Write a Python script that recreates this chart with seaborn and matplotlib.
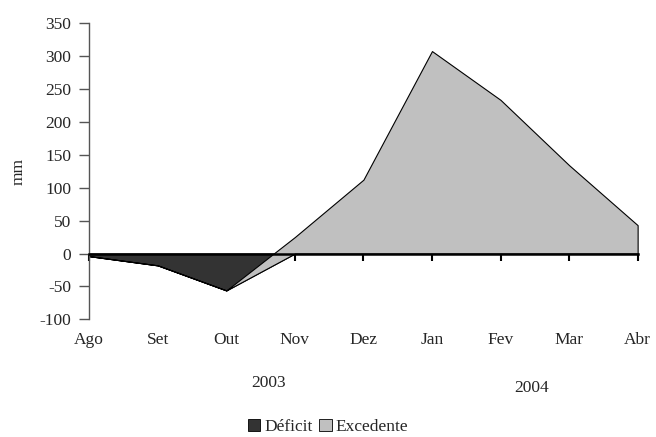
import numpy as np
import pandas as pd
import seaborn as sns
import matplotlib.pyplot as plt
from matplotlib.patches import Patch

# DATOS
meses = ['Ago', 'Set', 'Out', 'Nov', 'Dez', 'Jan', 'Fev', 'Mar', 'Abr']
deficit = [-4, -18, -56, 0, 0, 0, 0, 0, 0]
excedente = [0, 0, 0, 25, 112, 307, 233, 134, 43]
anos = ['2003', '2004']
pos_anos = [2.62, 6.45]

sns.set_style('white')
plt.rcParams['font.family'] = ['Liberation Serif', 'DejaVu Serif']
plt.rcParams['font.size'] = 12.5

df = pd.DataFrame({'mes': meses, 'Déficit': deficit, 'Excedente': excedente})
x = np.arange(len(df))

fig = plt.figure(figsize=(6.56, 4.37), dpi=100)
ax = fig.add_axes([0.136, 0.269, 0.836, 0.679])

c_def = '#333333'
c_exc = '#c0c0c0'
ax.stackplot(x, df['Déficit'], df['Excedente'], colors=[c_def, c_exc],
             edgecolor='black', linewidth=0.8)

ax.set_xlim(0, len(df) - 1)
ax.set_ylim(-100, 350)
ax.set_yticks(range(-100, 351, 50))
ax.set_yticklabels(['-100' if v == -100 else str(v) for v in range(-100, 351, 50)])
ax.set_ylabel('mm')
ax.yaxis.set_label_coords(-0.115, 0.5)

# EJES
sns.despine(ax=ax)
ax.spines['bottom'].set_position(('data', 0))
ax.spines['bottom'].set_linewidth(1.8)
ax.spines['bottom'].set_color('black')
ax.spines['left'].set_color('#555555')
ax.spines['left'].set_linewidth(1)
ax.set_xticks(x)
ax.set_xticklabels([])
ax.tick_params(axis='x', bottom=True, direction='out', length=5, width=1.5, color='black')
ax.tick_params(axis='y', left=True, direction='out', length=7, width=1, color='#555555', pad=6)

sec = ax.secondary_xaxis('bottom')
sec.set_xticks(x)
sec.set_xticklabels(meses)
sec.tick_params(length=0, pad=9)
sec.spines['bottom'].set_visible(False)

for a, p, yy in zip(anos, pos_anos, [-0.215, -0.23]):
    ax.text(p, yy, a, transform=ax.get_xaxis_transform(), ha='center', va='center')

handles = [Patch(facecolor=c_def, edgecolor='black', linewidth=0.6, label='Déficit'),
           Patch(facecolor=c_exc, edgecolor='black', linewidth=0.6, label='Excedente')]
fig.legend(handles=handles, loc='center', bbox_to_anchor=(0.5, 0.022), ncol=2,
           frameon=False, handlelength=0.7, handleheight=0.7, handletextpad=0.25,
           columnspacing=0.4)

fig.savefig('out.png', dpi=100)
